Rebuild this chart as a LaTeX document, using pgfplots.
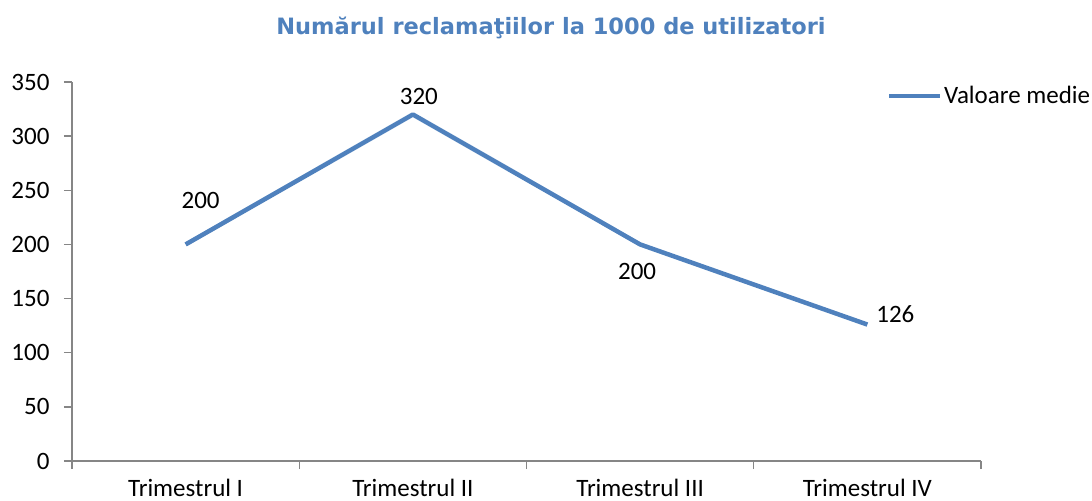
\documentclass[border=0pt]{standalone}
\usepackage{pgfplots}
\pgfplotsset{compat=1.18}
\usepackage{fontspec}
\setmainfont{Carlito}
\newfontfamily\titlefont{DejaVu Sans}
\definecolor{serblue}{HTML}{4F81BD}
\definecolor{axgray}{HTML}{868686}
\pgfplotstableread{
x y dx dy
0 200 15 44
1 320 6 18
2 200 -3 -27
3 126 28 10
}\datatable
\begin{document}
\begin{tikzpicture}
\useasboundingbox (0,0) rectangle (1092bp,501bp);
\node[font=\titlefont\bfseries\fontsize{22.5bp}{26bp}\selectfont, text=serblue] at (551bp,473bp) {Numărul reclamaţiilor la 1000 de utilizatori};
\begin{axis}[
  at={(72bp,40bp)}, anchor=south west,
  scale only axis, width=909bp, height=379bp,
  xmin=-0.5, xmax=3.5, ymin=0, ymax=350,
  axis lines=left,
  axis line style={-, draw=axgray, line width=1.3bp},
  xtick={-0.5,0.5,1.5,2.5,3.5},
  xticklabels={Trimestrul I,Trimestrul II,Trimestrul III,Trimestrul IV},
  x tick label as interval,
  ytick={0,50,...,350},
  tick align=outside,
  major tick length=8bp,
  tick style={draw=axgray, line width=1.3bp},
  ticklabel style={font=\fontsize{25bp}{29bp}\selectfont, text=black},
  yticklabel style={xshift=-11bp},
  xticklabel style={yshift=-7bp},
  /pgf/number format/assume math mode=true,
  legend style={at={(0.8966,0.963)}, anchor=west, draw=none, fill=none, inner sep=0pt, font=\fontsize{25bp}{29bp}\selectfont, nodes={inner sep=1.5bp}},
  legend image code/.code={\draw[line width=4.5bp, serblue] (0bp,0bp) -- (51bp,0bp);},
  clip=false,
]
\addplot[serblue, line width=4.5bp, line join=round,
  nodes near coords, point meta=explicit,
  visualization depends on={\thisrow{dx}\as\dx},
  visualization depends on={\thisrow{dy}\as\dy},
  every node near coord/.append style={text=black, anchor=center, font=\fontsize{25bp}{29bp}\selectfont, xshift=\dx*1bp, yshift=\dy*1bp}]
  table[x=x, y=y, meta=y] {\datatable};
\addlegendentry{Valoare medie}
\end{axis}
\end{tikzpicture}
\end{document}
